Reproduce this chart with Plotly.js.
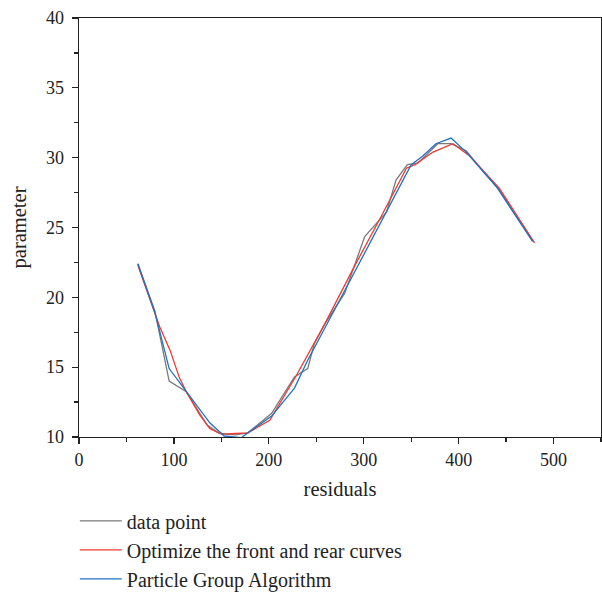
<!DOCTYPE html>
<html>
<head>
<meta charset="utf-8">
<script src="https://cdn.plot.ly/plotly-3.0.1.min.js"></script>
<style>html,body{margin:0;padding:0;background:#fff;}</style>
</head>
<body>
<div id="chart" style="width:602px;height:592px;"></div>
<script>
// Data
const dataX = [62, 80, 95, 113, 135, 147, 155, 165, 178, 203, 227, 241, 248, 259, 280, 290, 301, 324, 334, 346, 357, 378, 392, 408, 426, 443, 460, 478];
const dataY = [22.4, 19.0, 14.0, 13.25, 10.85, 10.3, 10.2, 10.15, 10.3, 11.7, 14.3, 14.9, 16.7, 18.1, 20.3, 22.2, 24.35, 26.1, 28.4, 29.5, 29.6, 31.0, 31.0, 30.5, 29.0, 27.7, 25.9, 24.0];

const optX = [62, 85, 96, 106, 113, 127, 138, 150, 165, 178, 201, 229, 259, 290, 320, 345, 354, 364, 373, 394, 412, 443, 480];
const optY = [22.3, 17.9, 16.2, 14.2, 13.25, 11.6, 10.6, 10.2, 10.25, 10.3, 11.2, 14.4, 18.1, 22.2, 26.0, 29.25, 29.5, 30.0, 30.4, 31.0, 30.1, 27.8, 23.9];

const psoX = [62, 80, 95, 113, 138, 153, 171, 178, 203, 227, 241, 295, 350, 362, 376, 392, 408, 440, 478];
const psoY = [22.4, 18.9, 14.9, 13.25, 11.0, 10.07, 9.95, 10.3, 11.5, 13.5, 15.5, 22.4, 29.5, 30.1, 31.0, 31.4, 30.4, 27.9, 24.0];

const seriesNames = ["data point", "Optimize the front and rear curves", "Particle Group Algorithm"];
const xTitle = "residuals";
const yTitle = "parameter";

const FONT = "Liberation Serif, Times New Roman, serif";

const traces = [
  {x: dataX, y: dataY, name: seriesNames[0], legendgroup: "a", mode: "lines",
   line: {color: "#7a7a7a", width: 1.3}},
  {x: optX, y: optY, name: seriesNames[1], legendgroup: "b", mode: "lines",
   line: {color: "#ee3a33", width: 1.3}},
  {x: psoX, y: psoY, name: seriesNames[2], legendgroup: "c", mode: "lines",
   line: {color: "#1f72c2", width: 1.3}}
];

const axisCommon = {
  showgrid: false, zeroline: false,
  showline: true, linecolor: "#222", linewidth: 1.3, mirror: true,
  ticks: "outside", ticklen: 6, tickwidth: 1.3, tickcolor: "#222",
  tickfont: {family: FONT, size: 18, color: "#222"}
};

const layout = {
  width: 602, height: 592,
  margin: {l: 79, r: 1, t: 18, b: 155, autoexpand: false},
  paper_bgcolor: "#fff", plot_bgcolor: "#fff",
  font: {family: FONT, color: "#222"},
  showlegend: true,
  legend: {
    x: -0.008, xanchor: "left", yref: "container", y: 0.153, yanchor: "top",
    font: {family: FONT, size: 20, color: "#222"},
    itemwidth: 42, tracegroupgap: 0, bgcolor: "rgba(0,0,0,0)"
  },
  xaxis: Object.assign({}, axisCommon, {
    range: [0, 550], dtick: 100, tick0: 0,
    minor: {ticks: "outside", dtick: 50, ticklen: 4, tickwidth: 1.3, tickcolor: "#222"},
    title: {text: xTitle, font: {family: FONT, size: 20.5, color: "#222"}, standoff: 12}
  }),
  yaxis: Object.assign({}, axisCommon, {
    range: [10, 40], dtick: 5, tick0: 10,
    minor: {ticks: "outside", dtick: 2.5, ticklen: 4, tickwidth: 1.3, tickcolor: "#222"},
    ticklabelstandoff: 4,
    title: {text: yTitle, font: {family: FONT, size: 20.5, color: "#222"}, standoff: 14}
  })
};

Plotly.newPlot("chart", traces, layout, {displayModeBar: false, staticPlot: true});
</script>
</body>
</html>
